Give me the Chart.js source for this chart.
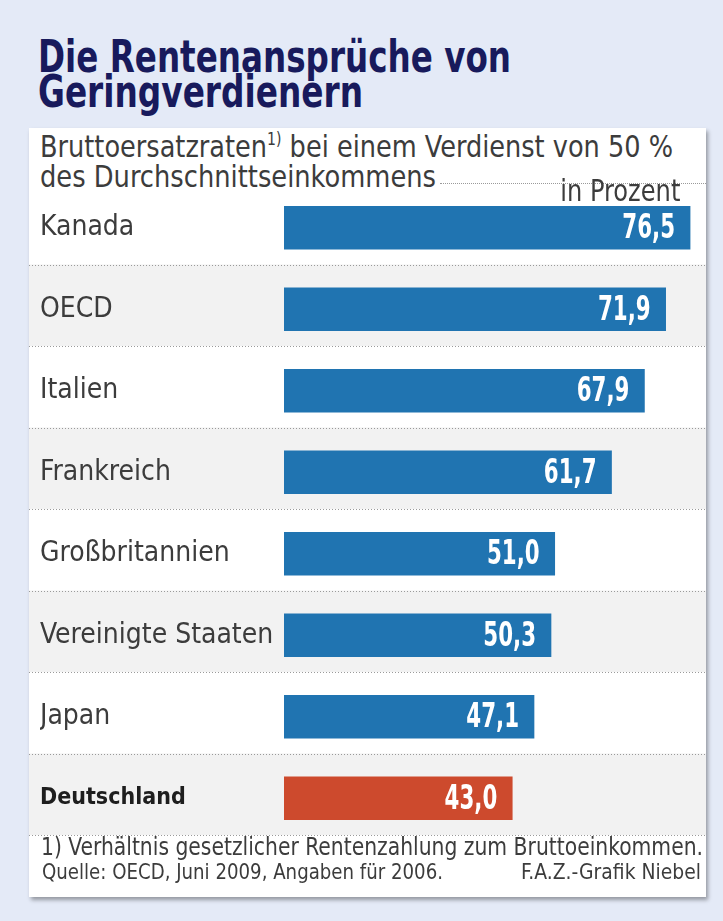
<!DOCTYPE html>
<html lang="de">
<head>
<meta charset="utf-8">
<title>Die Rentenansprüche von Geringverdienern</title>
<script src="https://cdn.jsdelivr.net/npm/chart.js@4.4.1/dist/chart.umd.min.js"></script>
<style>
  html, body { margin: 0; padding: 0; }
  body { width: 723px; height: 921px; background: #e4eaf7; position: relative; overflow: hidden;
         font-family: "DejaVu Sans Condensed", "DejaVu Sans", sans-serif; }
  .abs { position: absolute; line-height: 1; white-space: nowrap; transform-origin: left top; }
  .abs.r { transform-origin: right top; }
  #panel { position: absolute; left: 29px; top: 128px; width: 677px; height: 769px; background: #fff;
           box-shadow: 2px 3px 4px rgba(0,0,0,0.35); }
  .title { left: 38px; font-size: 44px; font-weight: bold; color: #181a5c; }
  .sub { left: 40px; font-size: 31px; color: #3c3c3c; }
  .sub sup { font-size: 17px; vertical-align: 12px; line-height: 0; }
  .dots { position: absolute; height: 0; border-top: 1px dotted #9a9a9a; }
  #chart { position: absolute; left: 29px; top: 187px; }
  .foot { color: #3c3c3c; }
</style>
</head>
<body>
<div id="panel"></div>
<div class="abs title" style="top:35px" data-w="473">Die Rentenansprüche von</div>
<div class="abs title" style="top:70px" data-w="325">Geringverdienern</div>
<div class="abs sub" style="top:131px" data-w="633">Bruttoersatzraten<sup>1)</sup> bei einem Verdienst von 50 %</div>
<div class="abs sub" style="top:161px" data-w="396">des Durchschnittseinkommens</div>
<div class="dots" style="left:440px; top:183px; width:266px"></div>
<canvas id="chart" width="677" height="652"></canvas>
<div class="abs sub r" style="top:176px; left:auto; right:43px; font-size:30px; z-index:2" data-w="120">in Prozent</div>
<div class="abs foot" style="left:41px; top:835px; font-size:24px" data-w="662">1) Verhältnis gesetzlicher Rentenzahlung zum Bruttoeinkommen.</div>
<div class="abs foot" style="left:42px; top:861px; font-size:22px" data-w="401">Quelle: OECD, Juni 2009, Angaben für 2006.</div>
<div class="abs foot r" style="right:22px; top:861px; font-size:22px" data-w="180">F.A.Z.-Grafik Niebel</div>
<script>
// Länder (Kategorien) und Bruttoersatzraten in Prozent
const countries = ["Kanada", "OECD", "Italien", "Frankreich", "Großbritannien", "Vereinigte Staaten", "Japan", "Deutschland"];
const rates = [76.5, 71.9, 67.9, 61.7, 51.0, 50.3, 47.1, 43.0];
const highlightCountry = "Deutschland";

const BLUE = "#2074b1";
const RED = "#cd4a2d";
const FONT = '"DejaVu Sans Condensed", "DejaVu Sans", sans-serif';
const ROW_SHIFT = 4; // Trennlinien liegen etwas über der Zeilenmitte

// Texte auf die Breite im Original stauchen
document.querySelectorAll("[data-w]").forEach((el) => {
  const w = el.getBoundingClientRect().width;
  el.style.transform = `scaleX(${el.dataset.w / w})`;
});

// Zeilenhintergrund + gepunktete Trennlinien (vor den Achsen zeichnen)
const rowsPlugin = {
  id: "rows",
  beforeDraw(chart) {
    const { ctx, chartArea } = chart;
    const rowH = (chartArea.bottom - chartArea.top) / countries.length;
    ctx.save();
    for (let i = 0; i < countries.length; i++) {
      const y0 = chartArea.top + i * rowH - ROW_SHIFT;
      if (i % 2 === 1) {
        ctx.fillStyle = "#f2f2f2";
        ctx.fillRect(0, y0, chart.width, rowH);
      }
    }
    ctx.strokeStyle = "#9a9a9a";
    ctx.lineWidth = 1;
    ctx.setLineDash([1, 2]);
    for (let i = 1; i <= countries.length; i++) {
      const y = Math.round(chartArea.top + i * rowH - ROW_SHIFT) + 0.5;
      ctx.beginPath();
      ctx.moveTo(0, y);
      ctx.lineTo(chart.width, y);
      ctx.stroke();
    }
    ctx.restore();
  },
};

// Werte in den Balken (weiß, rechtsbündig, schmal)
const valuePlugin = {
  id: "values",
  afterDatasetsDraw(chart) {
    const { ctx } = chart;
    const meta = chart.getDatasetMeta(0);
    meta.data.forEach((bar, i) => {
      const txt = rates[i].toFixed(1).replace(".", ",");
      ctx.save();
      ctx.fillStyle = "#ffffff";
      ctx.font = "bold 33px " + FONT;
      ctx.textAlign = "right";
      ctx.textBaseline = "middle";
      ctx.translate(bar.x - 15, bar.y + 2);
      ctx.scale(0.72, 1);
      ctx.fillText(txt, 0, 0);
      ctx.restore();
    });
  },
};

new Chart(document.getElementById("chart"), {
  type: "bar",
  data: {
    labels: countries,
    datasets: [
      {
        data: rates,
        backgroundColor: (c) => (countries[c.index] === highlightCountry ? RED : BLUE),
        barThickness: 43,
        borderWidth: 0,
      },
    ],
  },
  options: {
    indexAxis: "y",
    responsive: false,
    animation: false,
    layout: { padding: { left: 11, right: 0, top: 0, bottom: 0 } },
    plugins: { legend: { display: false }, tooltip: { enabled: false } },
    scales: {
      x: { display: false, min: 0, max: 79.5 },
      y: {
        position: "left",
        grid: { display: false },
        border: { display: false },
        afterFit: (scale) => {
          scale.width = 244;
          scale.paddingTop = 0;
          scale.paddingBottom = 0;
        },
        ticks: {
          autoSkip: false,
          crossAlign: "far",
          padding: 0,
          color: (c) => (countries[c.index] === highlightCountry ? "#1e1e1e" : "#3c3c3c"),
          font: (c) =>
            countries[c.index] === highlightCountry
              ? { family: FONT, size: 23, weight: "bold" }
              : { family: FONT, size: 28 },
        },
      },
    },
  },
  plugins: [rowsPlugin, valuePlugin],
});
</script>
</body>
</html>
